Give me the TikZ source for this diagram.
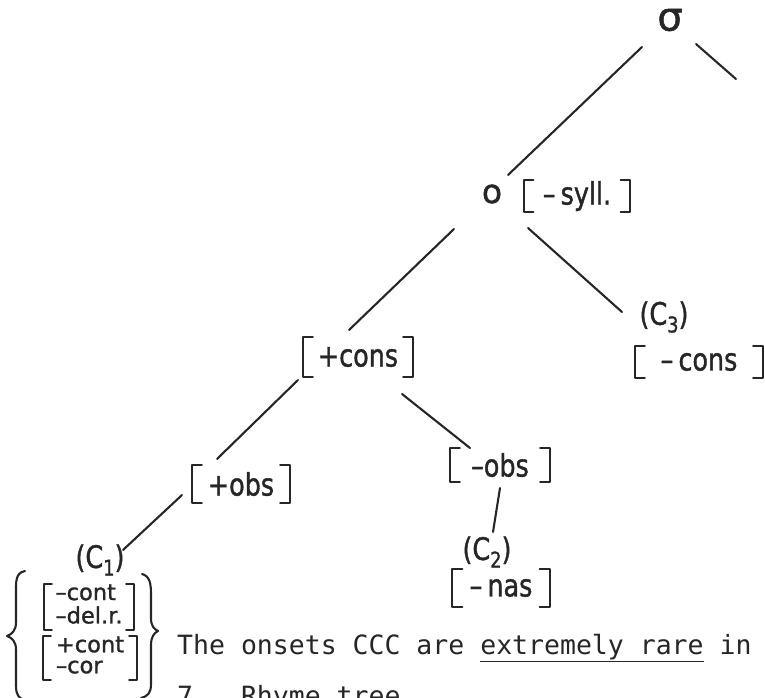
\documentclass[tikz,border=0pt]{standalone}
\usepackage{fontspec}
\usetikzlibrary{calc}
\newfontfamily\handfont[FakeStretch=0.82,FakeBold=1.2]{DejaVu Sans}
\newfontfamily\handwide[FakeBold=1.2]{DejaVu Sans}
\newfontfamily\typefont{DejaVu Sans Mono}
\definecolor{inkc}{HTML}{262626}
% lowered index digit for (C1), (C2), (C3)
\newcommand\lowidx[1]{\raisebox{-0.45ex}{\scalebox{0.7}{#1}}}
% two stacked features inside a matrix
\newcommand\featpair[2]{\begin{tabular}{@{}l@{}}#1\\#2\end{tabular}}
% square brackets drawn along the left and right borders of a node
\newcommand\sqbr[2]{%
  \draw[pen] ($(#1.north west)+(#2,0)$) -- (#1.north west) -- (#1.south west) -- ++(#2,0);
  \draw[pen] ($(#1.north east)+(-#2,0)$) -- (#1.north east) -- (#1.south east) -- ++(-#2,0);}
\begin{document}
\begin{tikzpicture}[x=1pt,y=-1pt,
  pen/.style={draw=inkc, line width=2.1pt, line cap=round, line join=round},
  lab/.style={text=inkc, inner sep=0pt, font=\handfont\fontsize{31}{34}\selectfont},
  brk/.style={lab},
  featbox/.style={text=inkc, inner sep=0pt, font=\handwide\fontsize{22.5}{21}\selectfont},
  typed/.style={text=inkc, inner sep=0pt, anchor=base west, font=\typefont\fontsize{26.5}{30}\selectfont}]
\useasboundingbox (0,0) rectangle (765,698);
\clip (0,0) rectangle (765,698);

% tree labels
\node[lab, font=\handwide\fontsize{40}{40}\selectfont] (sig) at (670,20) {σ};
\node[lab, font=\handwide\fontsize{33}{34}\selectfont] (o) at (492,194) {o};
\node[brk, minimum width=105, minimum height=32] (syll) at (577,196) {–\,syll.};
\node[lab] (c3) at (664,317) {(C\lowidx{3})};
\node[brk, minimum width=128, minimum height=32] (mcons) at (699,362) {–\,cons};
\node[brk, minimum width=110, minimum height=40] (pcons) at (358,357) {+cons};
\node[brk, minimum width=98, minimum height=38] (pobs) at (241,484) {+obs};
\node[brk, minimum width=100, minimum height=34] (mobs) at (500,465) {–obs};
\node[lab] (c2) at (487,552) {(C\lowidx{2})};
\node[brk, minimum width=97, minimum height=37] (mnas) at (501,588) {–\,nas};
\node[lab] (c1) at (100,560) {(C\lowidx{1})};
\node[featbox, minimum width=90, minimum height=40] (mat1) at (89,607) {\featpair{–cont}{–del.r.}};
\node[featbox, minimum width=94, minimum height=44] (mat2) at (90,658) {\featpair{+cont}{–cor}};

% brackets
\sqbr{syll}{9}
\sqbr{mcons}{10}
\sqbr{pcons}{10}
\sqbr{pobs}{10}
\sqbr{mobs}{10}
\sqbr{mnas}{10}
\sqbr{mat1}{8}
\sqbr{mat2}{8}

% braces round the two feature matrices
\draw[pen] (25,571) .. controls (15,573) and (16,582) .. (16,595) -- (16,622)
  .. controls (16,631) and (12,634) .. (7,636) .. controls (12,638) and (16,641) .. (16,650)
  -- (16,686) .. controls (16,695) and (19,698) .. (24,700);
\draw[pen] (142,574) .. controls (150,576) and (151,584) .. (151,595) -- (151,618)
  .. controls (151,626) and (154,629) .. (158,631) .. controls (154,633) and (151,637) .. (151,645)
  -- (151,684) .. controls (151,693) and (148,696) .. (141,698);

% branches
\coordinate (sigR) at (736,79);
\draw[pen] ($(sig)+(-28,27)$) -- ($(o)+(16,-19)$);
\draw[pen] ($(sig)+(26,24)$) -- (sigR);
\draw[pen] ($(o)+(-38,35)$) -- ($(pcons)+(-9,-27)$);
\draw[pen] ($(o)+(36,34)$) -- ($(c3)+(-42,-5)$);
\draw[pen] ($(pcons)+(-60,23)$) -- ($(pobs)+(-24,-25)$);
\draw[pen] ($(pcons)+(44,37)$) -- ($(mobs)+(-30,-17)$);
\draw[pen] ($(mobs)+(0,23)$) -- ($(c2)+(6,-20)$);
\draw[pen] ($(pobs)+(-59,11)$) -- ($(c1)+(23,-10)$);

% typed text
\node[typed] (line1) at (177,654) {The onsets CCC are \underline{extremely rare} in};
\node[typed] (line2) at (177,705) {7\ \ \ Rhyme tree};
\end{tikzpicture}
\end{document}
